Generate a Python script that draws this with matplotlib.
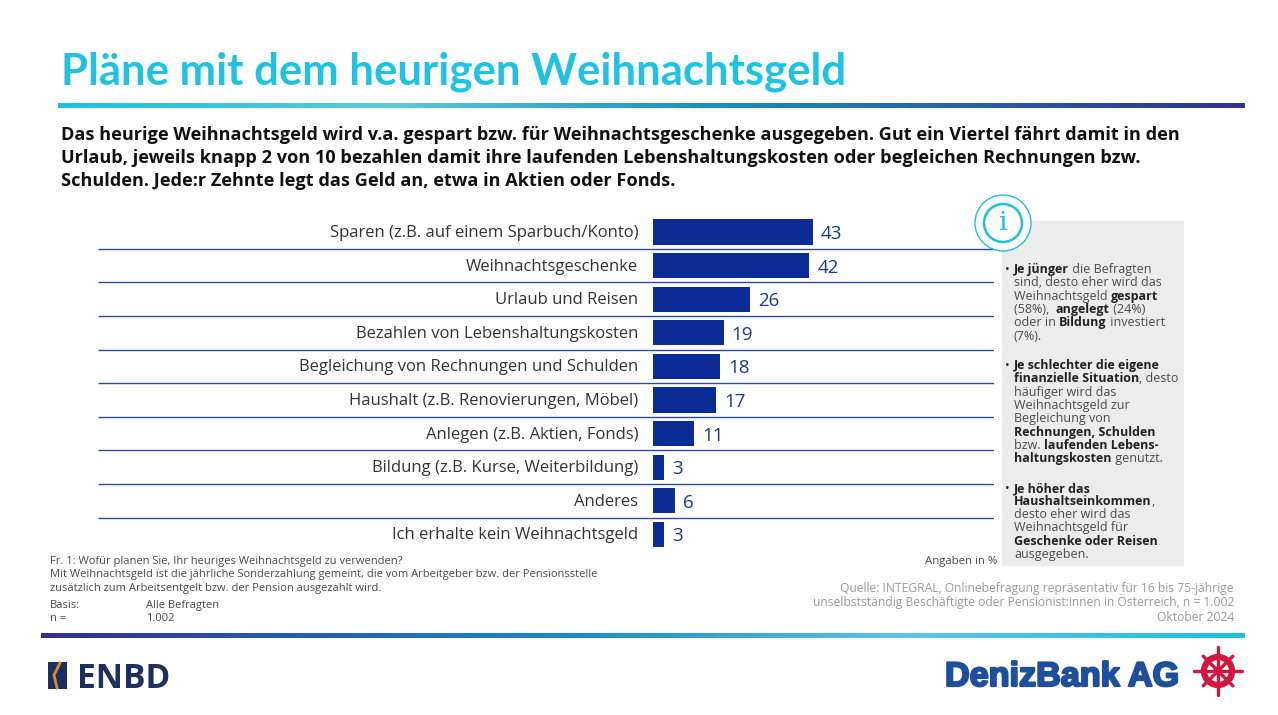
#!/usr/bin/env python3
"""Pläne mit dem heurigen Weihnachtsgeld: survey bar chart on a report slide."""
import matplotlib
matplotlib.use('Agg')
import matplotlib.pyplot as plt
import numpy as np
from matplotlib import patheffects
from matplotlib.colors import LinearSegmentedColormap
from matplotlib.patches import Circle, Rectangle

W, H = 1278, 715
FONT = "Open Sans"
CYAN = "#1fc0dc"
NAVY = "#33308e"
BAR = "#0b2b96"
GREY = "#4a4a4a"

categories = [
    "Sparen (z.B. auf einem Sparbuch/Konto)",
    "Weihnachtsgeschenke",
    "Urlaub und Reisen",
    "Bezahlen von Lebenshaltungskosten",
    "Begleichung von Rechnungen und Schulden",
    "Haushalt (z.B. Renovierungen, Möbel)",
    "Anlegen (z.B. Aktien, Fonds)",
    "Bildung (z.B. Kurse, Weiterbildung)",
    "Anderes",
    "Ich erhalte kein Weihnachtsgeld",
]
values = [43, 42, 26, 19, 18, 17, 11, 3, 6, 3]

intro_lines = [
    "Das heurige Weihnachtsgeld wird v.a. gespart bzw. für Weihnachtsgeschenke ausgegeben. Gut ein Viertel fährt damit in den",
    "Urlaub, jeweils knapp 2 von 10 bezahlen damit ihre laufenden Lebenshaltungskosten oder begleichen Rechnungen bzw.",
    "Schulden. Jede:r Zehnte legt das Geld an, etwa in Aktien oder Fonds.",
]

# (baseline y, bullet, [(text, bold), ...])
panel_lines = [
    (273, True, [("Je jünger", True), (" die Befragten", False)]),
    (286.5, False, [("sind, desto eher wird das", False)]),
    (300, False, [("Weihnachtsgeld ", False), ("gespart", True)]),
    (313, False, [("(58%),  ", False), ("angelegt", True), (" (24%)", False)]),
    (326, False, [("oder in ", False), ("Bildung", True), (" investiert", False)]),
    (340, False, [("(7%).", False)]),
    (369, True, [("Je schlechter die eigene", True)]),
    (382, False, [("finanzielle Situation", True), (", desto", False)]),
    (396, False, [("häufiger wird das", False)]),
    (409, False, [("Weihnachtsgeld zur", False)]),
    (422, False, [("Begleichung von", False)]),
    (436, False, [("Rechnungen, Schulden", True)]),
    (449, False, [("bzw. ", False), ("laufenden Lebens-", True)]),
    (462, False, [("haltungskosten", True), (" genutzt.", False)]),
    (492, True, [("Je höher das", True)]),
    (505, False, [("Haushaltseinkommen", True), (",", False)]),
    (518, False, [("desto eher wird das", False)]),
    (531, False, [("Weihnachtsgeld für", False)]),
    (545, False, [("Geschenke oder Reisen", True)]),
    (558, False, [("ausgegeben.", False)]),
]

question_lines = [
    "Fr. 1: Wofür planen Sie, Ihr heuriges Weihnachtsgeld zu verwenden?",
    "Mit Weihnachtsgeld ist die jährliche Sonderzahlung gemeint, die vom Arbeitgeber bzw. der Pensionsstelle",
    "zusätzlich zum Arbeitsentgelt bzw. der Pension ausgezahlt wird.",
]
source_lines = [
    "Quelle: INTEGRAL, Onlinebefragung repräsentativ für 16 bis 75-jährige",
    "unselbstständig Beschäftigte oder Pensionist:innen in Österreich, n = 1.002",
    "Oktober 2024",
]


def gradient(ax, x0, x1, y0, y1, colors):
    cmap = LinearSegmentedColormap.from_list("band", colors)
    ax.imshow(np.linspace(0, 1, 256)[None, :], cmap=cmap, aspect="auto",
              extent=(x0, x1, y1, y0), zorder=1)


def draw_rich(ax, x, y, parts, size):
    # bold and regular runs on one line, so measure each run as we go
    renderer = ax.figure.canvas.get_renderer()
    inv = ax.transData.inverted()
    for txt, bold in parts:
        t = ax.text(x, y, txt, fontsize=size, color="#222222" if bold else GREY,
                    fontweight="bold" if bold else "normal", family=FONT, va="baseline")
        bb = t.get_window_extent(renderer)
        x = inv.transform((bb.x1, bb.y0))[0]


fig = plt.figure(figsize=(W / 100, H / 100), dpi=100)
bg = fig.add_axes([0, 0, 1, 1])
bg.set_xlim(0, W)
bg.set_ylim(H, 0)
bg.axis("off")

# header
bg.text(61, 85, "Pläne mit dem heurigen Weihnachtsgeld", fontsize=31.4, color="#1ec3e4",
        fontweight="bold", family="Lato", va="baseline")
top_stops = [(0, CYAN), (0.28, "#5fc6dc"), (0.55, "#1a8fc0"), (1, NAVY)]
gradient(bg, 58, 1245, 103, 108, top_stops)
for y, line in zip([140, 163, 186], intro_lines):
    bg.text(61, y, line, fontsize=13.1, fontweight="bold", color="#111111", family=FONT, va="baseline")

# side panel
bg.add_patch(Rectangle((1002, 221), 182, 345, facecolor="#ececec", edgecolor="none", zorder=1))
for y, bullet, parts in panel_lines:
    if bullet:
        bg.text(1005, y, "•", fontsize=9, color="#222222", family=FONT, va="baseline")
    draw_rich(bg, 1014, y, parts, 9.0)

# footer
for y, line in zip([564, 577.5, 591], question_lines):
    bg.text(50, y, line, fontsize=8, color=GREY, family=FONT, va="baseline")
bg.text(50, 608, "Basis:", fontsize=8, color=GREY, family=FONT, va="baseline")
bg.text(146, 608, "Alle Befragten", fontsize=8, color=GREY, family=FONT, va="baseline")
bg.text(50, 621, "n =", fontsize=8, color=GREY, family=FONT, va="baseline")
bg.text(146, 621, "1.002", fontsize=8, color=GREY, family=FONT, va="baseline")
bg.text(997, 564, "Angaben in %", fontsize=8.2, color=GREY, family=FONT, va="baseline", ha="right")
for y, line in zip([592, 606, 621], source_lines):
    bg.text(1234, y, line, fontsize=8.75, color="#9a9a9a", family=FONT, va="baseline", ha="right")
bottom_stops = [(0, NAVY), (0.45, "#1a8fc0"), (0.72, "#5fc6dc"), (1, CYAN)]
gradient(bg, 41, 1245, 633, 638, bottom_stops)

# logos
bg.add_patch(Rectangle((48, 662), 19, 27, facecolor="#1c2f5f", edgecolor="none", zorder=2))
bg.plot([60, 54, 57], [663, 675, 688], color="#e08a2c", lw=2, zorder=3)
bg.text(77, 688, "ENBD", fontsize=24.2, fontweight="bold", color="#1c2f5f", family=FONT, va="baseline")
logo = bg.text(945, 686, "DenizBank AG", fontsize=24.6, fontweight="bold", color="#1d4f9c",
               family="Liberation Sans", va="baseline")
logo.set_path_effects([patheffects.withStroke(linewidth=1.6, foreground="#1d4f9c")])
WHEEL = "#d3173f"
wheel_x, wheel_y = 1218, 671
bg.add_patch(Circle((wheel_x, wheel_y), 14, facecolor="none", edgecolor=WHEEL, lw=4.5, zorder=3))
bg.add_patch(Circle((wheel_x, wheel_y), 4.5, facecolor=WHEEL, edgecolor="none", zorder=3))
for ang in np.deg2rad(np.arange(0, 360, 45)):
    r = 24 if ang % (np.pi / 2) < 0.01 else 21
    bg.plot([wheel_x, wheel_x + r * np.cos(ang)], [wheel_y, wheel_y + r * np.sin(ang)],
            color=WHEEL, lw=2.4, zorder=3, solid_capstyle="round")

# chart: zero sits at x=653 px, 3.72 px per percent
PX_PER_UNIT = 3.72
ax_left, ax_right = 98, 994
top, bottom = 215.2, 551.3
ax = fig.add_axes([ax_left / W, 1 - bottom / H, (ax_right - ax_left) / W, (bottom - top) / H])
ax.patch.set_alpha(0)
ax.set_xlim((ax_left - 653) / PX_PER_UNIT, (ax_right - 653) / PX_PER_UNIT)
ax.set_ylim(len(values) - 0.5, -0.5)
ax.axis("off")
rows = np.arange(len(values))
ax.hlines(rows[:-1] + 0.5, *ax.get_xlim(), color="#2a4a9c", lw=1)
ax.barh(rows, values, height=0.75, color=BAR, zorder=2)
for i, (cat, val) in enumerate(zip(categories, values)):
    ax.annotate(cat, (0, i), xytext=(-15, -5), textcoords="offset pixels", ha="right", va="baseline",
                fontsize=12, color="#333333", family=FONT)
    ax.annotate(str(val), (val, i), xytext=(8, -7), textcoords="offset pixels", ha="left", va="baseline",
                fontsize=13.5, color="#1d3a8a", family=FONT)

# info icon goes over the rules and the panel
bg.set_zorder(0)
ax.set_zorder(1)
over = fig.add_axes([0, 0, 1, 1])
over.set_xlim(0, W)
over.set_ylim(H, 0)
over.axis("off")
over.set_zorder(2)
over.add_patch(Circle((1003, 223), 28, facecolor="white", edgecolor=CYAN, lw=1))
over.add_patch(Circle((1003, 223), 19, facecolor="white", edgecolor=CYAN, lw=1.8))
over.text(1003, 223, "i", fontsize=19, color=CYAN, family="DejaVu Serif", ha="center", va="center")

fig.savefig("out.png", dpi=100)
plt.close(fig)
